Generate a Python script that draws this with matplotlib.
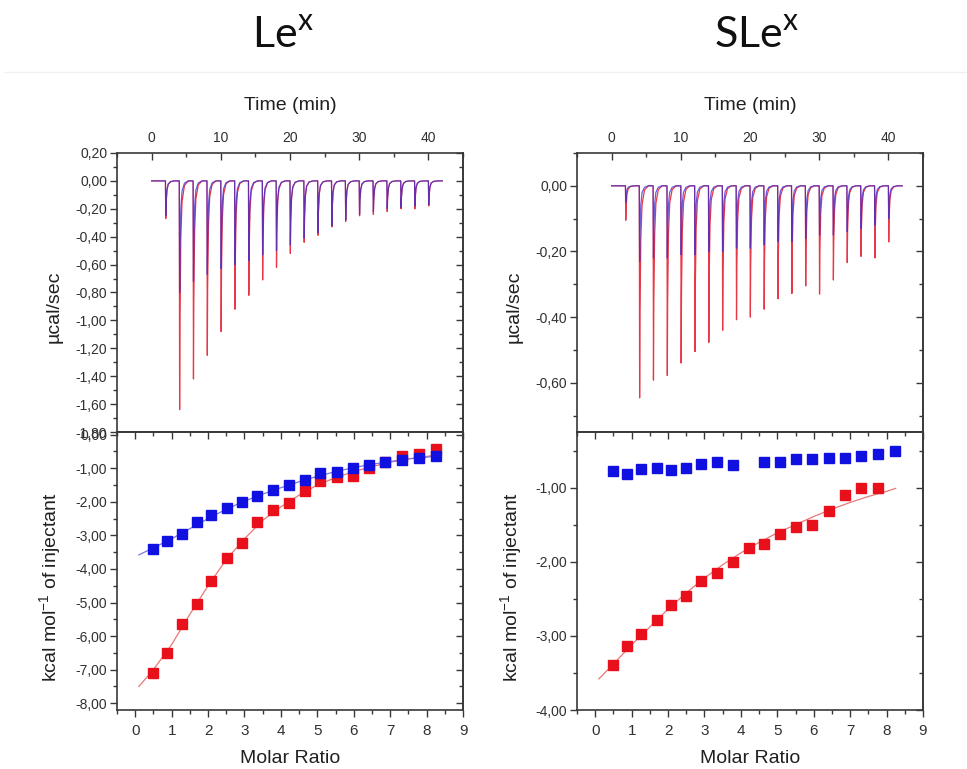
import matplotlib
matplotlib.use('Agg')
import matplotlib.pyplot as plt
from matplotlib.ticker import MultipleLocator, FuncFormatter
from matplotlib.lines import Line2D

plt.rcParams['font.family'] = ['Liberation Sans', 'DejaVu Sans']
plt.rcParams['mathtext.fontset'] = 'custom'
plt.rcParams['mathtext.rm'] = 'Lato'
plt.rcParams['mathtext.sf'] = 'Liberation Sans'

# ── Raw thermograms: injection times (min) and peak depths (µcal/sec) ──
inj_time = [2, 4, 6, 8, 10, 12, 14, 16, 18, 20,
            22, 24, 26, 28, 30, 32, 34, 36, 38, 40]

lex_peak_red = [-0.27, -1.64, -1.42, -1.25, -1.08, -0.92, -0.82, -0.71, -0.62, -0.52,
                -0.44, -0.39, -0.33, -0.29, -0.25, -0.24, -0.22, -0.20, -0.20, -0.18]
lex_peak_blue = [-0.25, -0.80, -0.72, -0.67, -0.63, -0.60, -0.57, -0.53, -0.50, -0.46,
                 -0.41, -0.37, -0.32, -0.28, -0.24, -0.22, -0.20, -0.19, -0.18, -0.17]

slex_peak_red = [-0.105, -0.646, -0.592, -0.578, -0.540, -0.505, -0.477, -0.440, -0.408, -0.400,
                 -0.376, -0.344, -0.328, -0.305, -0.330, -0.287, -0.234, -0.215, -0.220, -0.171]
slex_peak_blue = [-0.05, -0.23, -0.22, -0.22, -0.21, -0.21, -0.20, -0.20, -0.19, -0.19,
                  -0.18, -0.17, -0.17, -0.16, -0.15, -0.15, -0.14, -0.13, -0.12, -0.10]

# ── Integrated heats (kcal/mol of injectant) vs molar ratio ──
lex_ratio = [0.48, 0.87, 1.28, 1.69, 2.09, 2.51, 2.92, 3.34, 3.78, 4.21,
             4.65, 5.08, 5.53, 5.97, 6.42, 6.87, 7.33, 7.79, 8.25]
lex_heat_red = [-7.09, -6.50, -5.64, -5.03, -4.36, -3.68, -3.24, -2.60, -2.25, -2.03,
                -1.68, -1.38, -1.26, -1.22, -0.99, -0.82, -0.64, -0.59, -0.42]
lex_heat_blue = [-3.39, -3.16, -2.95, -2.61, -2.40, -2.19, -1.99, -1.83, -1.64, -1.49,
                 -1.34, -1.15, -1.10, -0.98, -0.90, -0.82, -0.74, -0.69, -0.62]

lex_fit_x = [0.1, 0.5, 1.0, 1.5, 2.0, 2.5, 3.0, 3.5, 4.0, 4.5,
             5.0, 5.5, 6.0, 6.5, 7.0, 7.5, 8.0, 8.25]
lex_fit_red = [-7.50, -7.00, -6.25, -5.35, -4.50, -3.72, -3.10, -2.55, -2.15, -1.80,
               -1.50, -1.28, -1.10, -0.95, -0.82, -0.72, -0.65, -0.60]
lex_fit_blue = [-3.58, -3.37, -3.10, -2.80, -2.50, -2.22, -1.98, -1.77, -1.58, -1.40,
                -1.24, -1.10, -0.98, -0.88, -0.80, -0.72, -0.67, -0.64]

slex_ratio_red = [0.48, 0.87, 1.27, 1.70, 2.09, 2.50, 2.91, 3.35, 3.78, 4.21,
                  4.64, 5.08, 5.52, 5.96, 6.42, 6.87, 7.31, 7.77]
slex_heat_red = [-3.39, -3.14, -2.98, -2.78, -2.59, -2.46, -2.26, -2.15, -2.00, -1.82,
                 -1.76, -1.62, -1.53, -1.50, -1.31, -1.10, -1.01, -1.00]
slex_ratio_blue = [0.48, 0.87, 1.27, 1.70, 2.09, 2.50, 2.91, 3.35, 3.78,
                   4.64, 5.08, 5.52, 5.96, 6.42, 6.87, 7.31, 7.77, 8.23]
slex_heat_blue = [-0.78, -0.81, -0.75, -0.73, -0.76, -0.73, -0.68, -0.66, -0.69,
                  -0.66, -0.65, -0.62, -0.61, -0.60, -0.60, -0.57, -0.55, -0.50]

slex_fit_x = [0.1, 0.5, 1.0, 1.5, 2.0, 2.5, 3.0, 3.5, 4.0, 4.5,
              5.0, 5.5, 6.0, 6.5, 7.0, 7.5, 8.0, 8.25]
slex_fit_red = [-3.58, -3.38, -3.12, -2.88, -2.64, -2.42, -2.22, -2.04, -1.88, -1.74,
                -1.61, -1.50, -1.39, -1.29, -1.20, -1.12, -1.05, -1.01]

# spike shape template (time offset, fraction of peak depth)
SPIKE_DT = [0.0, 0.05, 0.10, 0.22, 0.40, 0.75, 1.30]
SPIKE_FR = [0.0, 1.00, 0.60, 0.25, 0.09, 0.02, 0.0]

RED = '#e8101a'
BLUE = '#1010e0'
TRACE_RED = '#e83848'
TRACE_BLUE = '#3a2ad0'
INK = '#303030'


def trace(times, peaks, t_end=42.0):
    t, y = [0.0], [0.0]
    for ti, p in zip(times, peaks):
        for dt, fr in zip(SPIKE_DT, SPIKE_FR):
            t.append(ti + dt)
            y.append(p * fr)
    t.append(t_end)
    y.append(0.0)
    return t, y


comma = FuncFormatter(lambda v, pos: f"{v:.2f}".replace('.', ','))


def style_axes(ax, top_panel, ymajor, yminor):
    for s in ax.spines.values():
        s.set_color('#383838')
        s.set_linewidth(1.2)
    ax.yaxis.set_major_locator(MultipleLocator(ymajor))
    ax.yaxis.set_minor_locator(MultipleLocator(yminor))
    ax.yaxis.set_major_formatter(comma)
    ax.tick_params(axis='y', which='major', direction='out', length=5, width=1,
                   color='#383838', labelsize=10, labelcolor=INK, pad=2)
    ax.tick_params(axis='y', which='minor', direction='out', length=3, width=1,
                   color='#383838')
    # inward ticks on right side
    sec = ax.secondary_yaxis('right')
    sec.yaxis.set_major_locator(MultipleLocator(ymajor))
    sec.yaxis.set_minor_locator(MultipleLocator(yminor))
    sec.tick_params(which='major', direction='in', length=5, width=1,
                    color='#383838', labelright=False)
    sec.tick_params(which='minor', direction='in', length=3, width=1,
                    color='#383838')
    sec.spines['right'].set_color('#383838')
    sec.spines['right'].set_linewidth(1.2)
    if top_panel:
        ax.xaxis.tick_top()
        ax.xaxis.set_label_position('top')
        ax.xaxis.set_major_locator(MultipleLocator(10))
        ax.xaxis.set_minor_locator(MultipleLocator(5))
        ax.tick_params(axis='x', which='major', direction='in', length=5, width=1,
                       color='#383838', labelsize=10, labelcolor=INK, pad=6)
        ax.tick_params(axis='x', which='minor', direction='in', length=3, width=1,
                       color='#383838')
    else:
        ax.xaxis.set_major_locator(MultipleLocator(1))
        ax.xaxis.set_minor_locator(MultipleLocator(0.5))
        ax.tick_params(axis='x', which='major', direction='out', length=5, width=1,
                       color='#383838', labelsize=11, labelcolor=INK, pad=5)
        ax.tick_params(axis='x', which='minor', direction='out', length=3, width=1,
                       color='#383838')
        sx = ax.secondary_xaxis('top')
        sx.xaxis.set_major_locator(MultipleLocator(1))
        sx.xaxis.set_minor_locator(MultipleLocator(0.5))
        sx.tick_params(which='major', direction='in', length=5, width=1,
                       color='#383838', labeltop=False)
        sx.tick_params(which='minor', direction='in', length=3, width=1,
                       color='#383838')
        sx.spines['top'].set_color('#383838')
        sx.spines['top'].set_linewidth(1.2)


W, H = 967, 769
fig = plt.figure(figsize=(W / 100, H / 100), dpi=100)


def box(x0, y0, x1, y1):
    return [x0 / W, 1 - y1 / H, (x1 - x0) / W, (y1 - y0) / H]


panels = [
    dict(x0=117, x1=463, pr=lex_peak_red, pb=lex_peak_blue, rylim=(-1.8, 0.2),
         rmaj=0.2, rmin=0.1, hylim=(-8.2, 0.08), hmaj=1.0, hmin=0.5,
         xr=lex_ratio, hr=lex_heat_red, xb=lex_ratio, hb=lex_heat_blue,
         fx=lex_fit_x, fr=lex_fit_red, fb=lex_fit_blue, title='Le$^{\\mathrm{x}}$',
         tx=283, lab1=63, lab2=64),
    dict(x0=577, x1=923, pr=slex_peak_red, pb=slex_peak_blue, rylim=(-0.75, 0.10),
         rmaj=0.2, rmin=0.1, hylim=(-4.0, -0.25), hmaj=1.0, hmin=0.5,
         xr=slex_ratio_red, hr=slex_heat_red, xb=slex_ratio_blue, hb=slex_heat_blue,
         fx=slex_fit_x, fr=slex_fit_red, fb=None, title='SLe$^{\\mathrm{x}}$',
         tx=757, lab1=523, lab2=525),
]

for p in panels:
    span = p['x1'] - p['x0']

    # ── Top: raw thermogram ──
    ax1 = fig.add_axes(box(p['x0'], 153, p['x1'], 432))
    tr, yr = trace(inj_time, p['pr'])
    tb, yb = trace(inj_time, p['pb'])
    ax1.plot(tr, yr, color=TRACE_RED, lw=0.9)
    ax1.plot(tb, yb, color=TRACE_BLUE, lw=0.9, alpha=0.75)
    ax1.set_xlim(-5, 45)
    ax1.set_ylim(*p['rylim'])
    style_axes(ax1, True, p['rmaj'], p['rmin'])
    ax1.set_xlabel('Time (min)', fontsize=14, color='#202020', labelpad=15)
    ax1.set_ylabel('µcal/sec', fontsize=14, color='#202020')
    ax1.yaxis.set_label_coords((p['lab1'] - p['x0']) / span, 1 - (307 - 153) / 279)

    # ── Bottom: integrated heats ──
    ax2 = fig.add_axes(box(p['x0'], 432, p['x1'], 710))
    ax2.plot(p['fx'], p['fr'], color='#e87878', lw=0.9, zorder=2)
    if p['fb'] is not None:
        ax2.plot(p['fx'], p['fb'], color='#7878e8', lw=0.9, zorder=2)
    ax2.plot(p['xr'], p['hr'], 's', color=RED, ms=6.5, mec=RED, zorder=3)
    ax2.plot(p['xb'], p['hb'], 's', color=BLUE, ms=6.5, mec=BLUE, zorder=4)
    ax2.set_xlim(-0.5, 9)
    ax2.set_ylim(*p['hylim'])
    style_axes(ax2, False, p['hmaj'], p['hmin'])
    ax2.set_xlabel('Molar Ratio', fontsize=14, color='#202020', labelpad=9)
    ax2.set_ylabel('kcal mol$^{\\mathsf{-1}}$ of injectant', fontsize=14,
                   color='#202020')
    ax2.yaxis.set_label_coords((p['lab2'] - p['x0']) / span, 1 - (587 - 432) / 278)

    fig.text(p['tx'] / W, 1 - 47 / H, p['title'], fontsize=31, fontfamily='Lato',
             ha='center', va='baseline', color='#101010')

# faint divider under the titles
fig.add_artist(Line2D([5 / W, 1.0], [1 - 72 / H, 1 - 72 / H], color='#f0f0f0', lw=1))

fig.savefig('out.png', dpi=100)
